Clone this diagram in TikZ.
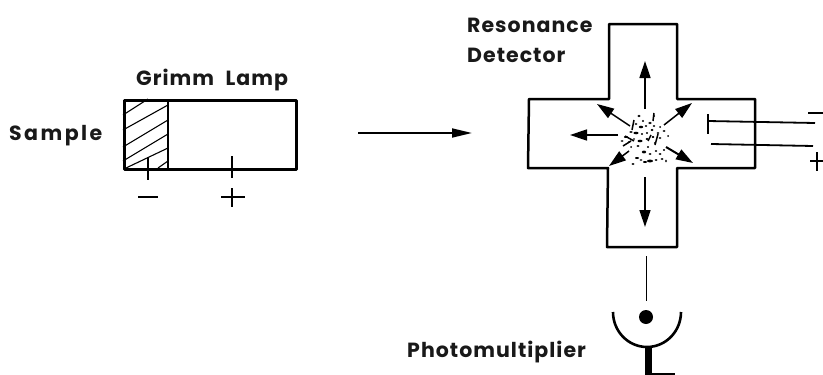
\documentclass[tikz,border=0pt]{standalone}
\usepackage{fontspec}
\setmainfont{Poppins}[LetterSpace=5]
\newfontfamily\widefont{Poppins}[LetterSpace=12]
\usetikzlibrary{arrows.meta}
\tikzset{
 wall/.style={line width=2.5pt,line join=round},
 wire/.style={line width=1.8pt},
 ray/.style={line width=1.5pt,-{Triangle[length=17pt,width=11pt]}},
 label/.style={inner sep=0pt,font=\fontsize{20.5}{20.5}\selectfont\bfseries,text=black!90}
}
\begin{document}
\begin{tikzpicture}[x=1pt,y=-1pt]
\useasboundingbox (0,0) rectangle (823,375);
% text
\node[label,anchor=base west] (sample) at (9,140) {\widefont\bfseries Sample};
\node[label,anchor=base west] (grimm) at (136,85) {Grimm\hspace{6pt} Lamp};
\node[label,anchor=base west] (reso) at (467,32) {Resonance};
\node[label,anchor=base west] (det) at (467,62) {Detector};
\node[label,anchor=base west] (pm) at (407,357) {Photomultiplier};
% lamp
\draw[line width=1.1pt] (123,115)--(148,99) (123,130)--(168,105) (123,147)--(168,120) (123,161)--(168,134) (126,168)--(168,148) (158,168)--(168,161);
\node[draw,wall,minimum width=172pt,minimum height=69pt,inner sep=0pt,anchor=north west] (lamp) at (123,99) {};
\coordinate (div1) at (168,99); \coordinate (div2) at (168,168);
\draw[wall] (div1)--(div2);
\coordinate (cat1) at (148,157); \coordinate (cat2) at (148,180);
\coordinate (an1) at (232,156); \coordinate (an2) at (232,178);
\draw[wire] (cat1)--(cat2) (an1)--(an2);
\draw[wire] (138,197)--(158,197) (221,197)--(245,197) (232,188)--(232,207);
% main arrow
\coordinate (a1) at (358,133); \coordinate (a2) at (472,133);
\draw[wire,-{Triangle[length=20pt,width=9pt]}] (a1)--(a2);
% cross
\draw[wall] (609,24)--(677,24)--(677,99)--(755,99)--(755,168)--(677,168)--(677,247)--(607,247)--(608,168)--(528,168)--(529,99)--(609,99)--cycle;
% rays
\draw[ray] (645,109)--(645,61);
\draw[ray] (618,135)--(570,135);
\draw[ray] (645,177)--(645,227);
\draw[ray] (630,126)--(597,104);
\draw[ray] (664,125)--(692,103);
\draw[ray] (629,151)--(609,166);
\draw[ray,line width=2pt] (666,147)--(693,163);
% excited cloud
\foreach \x/\y/\a/\b in {639/116/1.6/1.2,654/116/1.2/1.2,643/121/1.2/1.1,650/123/1.8/1.2,636/124/1.3/1.1,641/127/2.2/1.3,646/126/1.3/1,654/126/1.3/1,660/127/1/1,631/132/1.8/1,636/133/2.6/1.3,626/137/2.2/1,622/141/1.5/.9,629/142/1.2/.9,640/141/2.5/1.3,647/133/1.2/1,652/130/1.5/1.2,658/133/1.4/1,664/131/1.5/1,668/136/1/1,660/138/1.4/1,655/143/1.2/1.2,648/147/1.2/1,638/146/1.6/1,644/152/2.2/1.4,650/154/1.5/1,656/151/1.3/1,660/154/1.5/1,664/150/1.2/1,631/147/1/1,637/158/2/1,641/160/1.4/.9,645/162/2/1,650/161/3/1.4,656/160/1.5/1,662/159/1.5/1,666/161/1/1.4,633/164/1.6/1,647/139/1.5/1.2,653/137/1.4/1.2,634/139/1.1/.9,642/134/1.1/1}
 \fill (\x,\y) ellipse [x radius=\a, y radius=\b];
\draw[line width=1.5pt] (634,120)--(632,130) (653,121)--(654,113) (648,141)--(651,135) (655,145)--(658,134) (625,136)--(634,141) (623,146)--(631,141);
% electrodes
\coordinate (e1) at (708,114); \coordinate (e2) at (708,134);
\coordinate (w1) at (708,121); \coordinate (w2) at (815,123);
\coordinate (w3) at (711,144); \coordinate (w4) at (813,146);
\draw[line width=2.8pt] (e1)--(e2);
\draw[wire] (w1)--(w2) (w3)--(w4);
\draw[wire] (808,113)--(823,113) (810,161)--(823,161) (817,152)--(817,171);
% photomultiplier
\coordinate (l1) at (646.5,256); \coordinate (l2) at (646.5,301);
\draw[wire] (l1)--(l2);
\fill (646,317) circle (7);
\draw[line width=2.6pt] (613,312) arc[start angle=180,end angle=0,x radius=34,y radius=35];
\fill (645,347) rectangle (652,375);
\fill (645,372.5) rectangle (675,375);
\end{tikzpicture}
\end{document}
